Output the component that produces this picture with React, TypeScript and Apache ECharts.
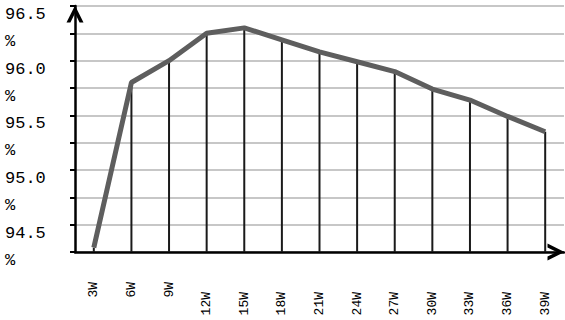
import React, { useEffect, useRef } from "react";
import * as echarts from "echarts";

const CATEGORIES = ["3W", "6W", "9W", "12W", "15W", "18W", "21W", "24W", "27W", "30W", "33W", "36W", "39W"];
const EFFICIENCY = [94.54, 96.05, 96.25, 96.5, 96.55, 96.44, 96.33, 96.24, 96.15, 95.99, 95.89, 95.74, 95.6];
const Y_MIN = 94.5;
const Y_MAX = 96.75;
const Y_STEP = 0.25;

const CHEVRON = "path://M0,10 L5,0 L10,10 L7.7,10 L5,4.6 L2.3,10 Z";

export default function App() {
  const ref = useRef<HTMLDivElement>(null);
  useEffect(() => {
    document.body.style.margin = "0";
    if (!ref.current) return;
    const chart = echarts.init(ref.current, null, { renderer: "svg" });
    chart.setOption({
      animation: false,
      backgroundColor: "#ffffff",
      grid: { left: 75, right: 1, top: 6, bottom: 68, containLabel: false, outerBoundsMode: "none" },
      xAxis: {
        type: "category",
        data: CATEGORIES.map((c) => ({
          value: c,
          textStyle: { padding: c.length > 2 ? [0, 10, 0, 0] : 0 },
        })),
        boundaryGap: true,
        axisLine: {
          lineStyle: { color: "#000", width: 2.5 },
          symbol: ["none", CHEVRON],
          symbolSize: [20, 17],
          symbolOffset: [0, -8],
        },
        axisTick: { show: false },
        splitLine: { show: false },
        axisLabel: {
          rotate: 90,
          margin: 30,
          interval: 0,
          color: "#000",
          fontFamily: "Liberation Mono",
          fontSize: 13,
        },
      },
      yAxis: {
        type: "value",
        min: Y_MIN,
        max: Y_MAX,
        interval: Y_STEP,
        axisLine: {
          show: true,
          lineStyle: { color: "#000", width: 2.5 },
          symbol: ["none", CHEVRON],
          symbolSize: [22, 17],
          symbolOffset: [0, -8],
        },
        axisTick: { show: true, length: 5, lineStyle: { color: "#000", width: 2 } },
        splitLine: { show: true, lineStyle: { color: "#b4b4b4", width: 1.5 } },
        axisLabel: {
          align: "left",
          margin: 70,
          color: "#000",
          fontFamily: "Liberation Mono",
          fontSize: 17,
          formatter: (v: number) =>
            Math.abs(v * 2 - Math.round(v * 2)) < 1e-6 && v < Y_MAX
              ? "{a|" + v.toFixed(1) + "}\n{a|%}\n{b| }"
              : "",
          rich: {
            a: { fontFamily: "Liberation Mono", fontSize: 17, lineHeight: 27, color: "#000", align: "left" },
            b: { fontSize: 2, lineHeight: 11, align: "left" },
          },
        },
      },
      series: [
        {
          type: "custom",
          z: 1,
          data: EFFICIENCY.map((v, i) => [i, v]),
          encode: { x: 0, y: 1 },
          renderItem: (params: any, api: any) => {
            const top = api.coord([api.value(0), api.value(1)]);
            const bottom = api.coord([api.value(0), Y_MIN]);
            return {
              type: "line",
              shape: { x1: top[0], y1: top[1], x2: bottom[0], y2: bottom[1] },
              style: { stroke: "#1a1a1a", lineWidth: 2 },
            };
          },
        },
        {
          type: "line",
          z: 3,
          data: EFFICIENCY,
          showSymbol: false,
          symbol: "none",
          lineStyle: { color: "#5e5e5e", width: 5 },
        },
      ],
    });
    return () => chart.dispose();
  }, []);
  return <div ref={ref} style={{ width: 565, height: 320 }} />;
}
